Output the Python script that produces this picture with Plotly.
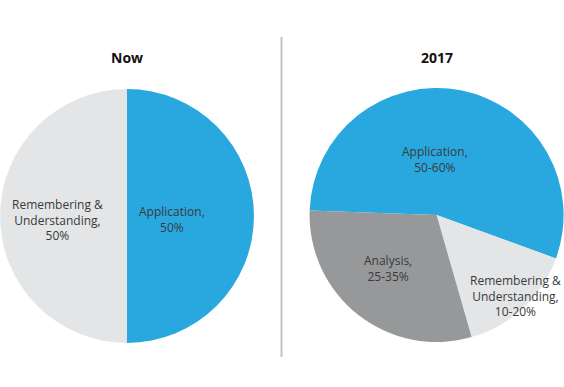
import math
import plotly.graph_objects as go

now_labels = ["Application", "Remembering & Understanding"]
now_values = [50, 50]
now_text = ["Application,<br>50%", "Remembering &<br>Understanding,<br>50%"]

future_labels = ["Application", "Remembering & Understanding", "Analysis"]
future_values = [55, 15, 30]
future_text = ["Application,<br>50-60%", "Remembering &<br>Understanding,<br>10-20%", "Analysis,<br>25-35%"]

titles = ["Now", "2017"]

BLUE = "#29A8E0"
LIGHT = "#E4E5E6"
DARK = "#97989A"
TXT = "#3a3a3a"
FONT = "Open Sans"

W, H = 564, 387
R = 127

# pie geometry (pixels from top-left)
pies = [
    dict(values=now_values, labels=now_labels, text=now_text, colors=[BLUE, LIGHT],
         cx=127, cy=216, rotation=0,
         # per-label placement: (angle nudge deg, radius fraction)
         place=[(5, 0.355), (-3, 0.55)]),
    dict(values=future_values, labels=future_labels, text=future_text, colors=[BLUE, LIGHT, DARK],
         cx=436.6, cy=215, rotation=-88,
         place=[(-13, 0.435), (-1, 0.89), (4.5, 0.57)]),
]

fig = go.Figure()
for p in pies:
    fig.add_trace(go.Pie(
        labels=p["labels"], values=p["values"],
        textinfo="none", sort=False, direction="clockwise", rotation=p["rotation"],
        marker=dict(colors=p["colors"], line=dict(width=0)),
        domain=dict(x=[(p["cx"] - R) / W, (p["cx"] + R) / W],
                    y=[1 - (p["cy"] + R) / H, 1 - (p["cy"] - R) / H]),
        hoverinfo="label+percent", showlegend=False,
    ))
    total = sum(p["values"])
    cum = 0
    for v, txt, (nudge, rf) in zip(p["values"], p["text"], p["place"]):
        theta = math.radians(p["rotation"] + 360 * (cum + v / 2) / total + nudge)
        cum += v
        x = p["cx"] + rf * R * math.sin(theta)
        y = p["cy"] - rf * R * math.cos(theta)
        fig.add_annotation(text=txt, x=x / W, y=1 - y / H, xref="paper", yref="paper",
                           showarrow=False, align="center", xanchor="center", yanchor="middle",
                           font=dict(family=FONT, size=12, color=TXT))

for t, p in zip(titles, pies):
    fig.add_annotation(text="<b>" + t + "</b>", x=p["cx"] / W, y=1 - 57.5 / H,
                       xref="paper", yref="paper", showarrow=False,
                       font=dict(family=FONT, size=14, color="#111111"),
                       xanchor="center", yanchor="middle")

fig.add_shape(type="line", xref="paper", yref="paper",
              x0=281.5 / W, x1=281.5 / W, y0=1 - 37 / H, y1=1 - 357 / H,
              line=dict(color="#C4C4C4", width=2))

fig.update_layout(width=W, height=H, margin=dict(l=0, r=0, t=0, b=0),
                  paper_bgcolor="white", plot_bgcolor="white")
fig.write_html("out.html", config={"displayModeBar": False},
               post_script="document.body.style.margin='0';document.body.style.overflow='hidden';")
